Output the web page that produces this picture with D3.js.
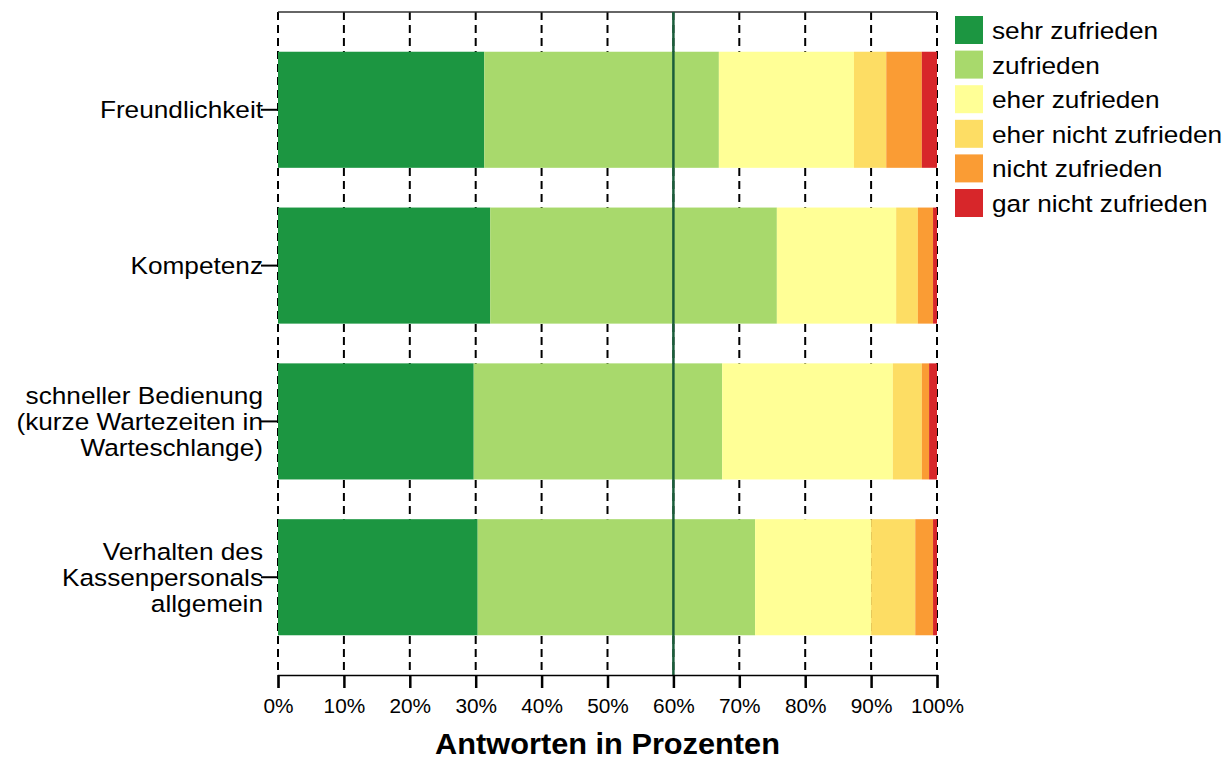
<!DOCTYPE html>
<html><head><meta charset="utf-8">
<script src="https://cdn.jsdelivr.net/npm/d3@7"></script>
<style>body{margin:0;background:#fff;} text{font-family:"Liberation Sans",Arial,sans-serif;}</style>
</head><body>
<svg id="c" width="1229" height="762"></svg>
<script>
const categories = [
  ["Freundlichkeit"],
  ["Kompetenz"],
  ["schneller Bedienung", "(kurze Wartezeiten in", "Warteschlange)"],
  ["Verhalten des", "Kassenpersonals", "allgemein"]
];
const seriesNames = ["sehr zufrieden","zufrieden","eher zufrieden","eher nicht zufrieden","nicht zufrieden","gar nicht zufrieden"];
const seriesColors = ["#1c9641","#a8d96c","#ffff96","#fddd64","#fa9c34","#d7262a"];
const sehrZufrieden      = [31.3, 32.2, 29.7, 30.3];
const zufrieden          = [35.6, 43.5, 37.7, 42.1];
const eherZufrieden      = [20.5, 18.1, 25.9, 17.6];
const eherNichtZufrieden = [4.9, 3.3, 4.4, 6.7];
const nichtZufrieden     = [5.4, 2.3, 1.1, 2.7];
const garNichtZufrieden  = [2.3, 0.6, 1.2, 0.6];
const tickValues = [0,10,20,30,40,50,60,70,80,90,100];
const refLine = 60;

const seriesValues = [sehrZufrieden, zufrieden, eherZufrieden, eherNichtZufrieden, nichtZufrieden, garNichtZufrieden];
const rows = categories.map((c,i)=>{
  const o = {key:i};
  seriesNames.forEach((s,j)=>o[s]=seriesValues[j][i]);
  return o;
});

const svg = d3.select("#c");
const L=278, R=937, T=12, B=675;
const SX = 1.07, FS = 24.5;
const x = d3.scaleLinear().domain([0,100]).range([L,R]);
const y = d3.scaleBand().domain(d3.range(categories.length)).range([T,B]).padding(0.255);

// grid lines
svg.append("g").selectAll("line").data(tickValues).join("line")
  .attr("x1",d=>x(d)).attr("x2",d=>x(d)).attr("y1",T).attr("y2",B)
  .attr("stroke","#000").attr("stroke-width",2).attr("stroke-dasharray","8,5");
// top border
svg.append("line").attr("x1",L).attr("x2",R).attr("y1",T).attr("y2",T).attr("stroke","#333").attr("stroke-width",1.5);

const stack = d3.stack().keys(seriesNames)(rows);
svg.append("g").selectAll("g").data(stack).join("g")
  .attr("fill",(d,i)=>seriesColors[i])
  .selectAll("rect").data(d=>d).join("rect")
  .attr("x",d=>x(d[0])).attr("width",d=>x(d[1])-x(d[0]))
  .attr("y",(d,i)=>y(i)).attr("height",y.bandwidth());

// reference line
svg.append("line").attr("x1",x(refLine)).attr("x2",x(refLine)).attr("y1",T).attr("y2",B)
  .attr("stroke","#1b5e3b").attr("stroke-width",2.5);

// x axis
const xa = svg.append("g").attr("transform",`translate(0,${B})`)
  .call(d3.axisBottom(x).tickValues(tickValues).tickFormat(d=>d+"%").tickSize(13).tickPadding(11));
xa.select(".domain").attr("stroke","#000").attr("stroke-width",1.5);
xa.selectAll(".tick line").attr("stroke","#000").attr("stroke-width",2.5);
xa.selectAll(".tick text").attr("font-size",20).attr("fill","#000")
  .attr("font-family","Liberation Sans, Arial, sans-serif")
  .attr("transform","scale(1.04,1)");

// y axis ticks + labels
const ya = svg.append("g");
categories.forEach((lines,i)=>{
  const cy = y(i)+y.bandwidth()/2;
  ya.append("line").attr("x1",L-17).attr("x2",L).attr("y1",cy).attr("y2",cy).attr("stroke","#000").attr("stroke-width",2);
  const n = lines.length, lh = 25.8;
  const g = ya.append("g").attr("transform",`translate(${L-15},${cy}) scale(${SX},1)`);
  const t = g.append("text").attr("text-anchor","end").attr("font-size",FS).attr("fill","#000");
  lines.forEach((ln,k)=>{
    t.append("tspan").attr("x",0).attr("y",(k-(n-1)/2)*lh + 8.5).text(ln);
  });
});

// axis title
svg.append("g").attr("transform",`translate(${(L+R)/2},754) scale(1.06,1)`)
  .append("text").attr("text-anchor","middle")
  .attr("font-size",29).attr("font-weight","bold").attr("fill","#000").text("Antworten in Prozenten");

// legend
const lg = svg.append("g");
seriesNames.forEach((s,i)=>{
  const yy = 16 + i*34.6;
  lg.append("rect").attr("x",955).attr("y",yy).attr("width",28).attr("height",28).attr("fill",seriesColors[i]);
  lg.append("g").attr("transform",`translate(992,${yy+23}) scale(${SX},1)`)
    .append("text").attr("font-size",FS).attr("fill","#000").text(s);
});
</script>
</body></html>
